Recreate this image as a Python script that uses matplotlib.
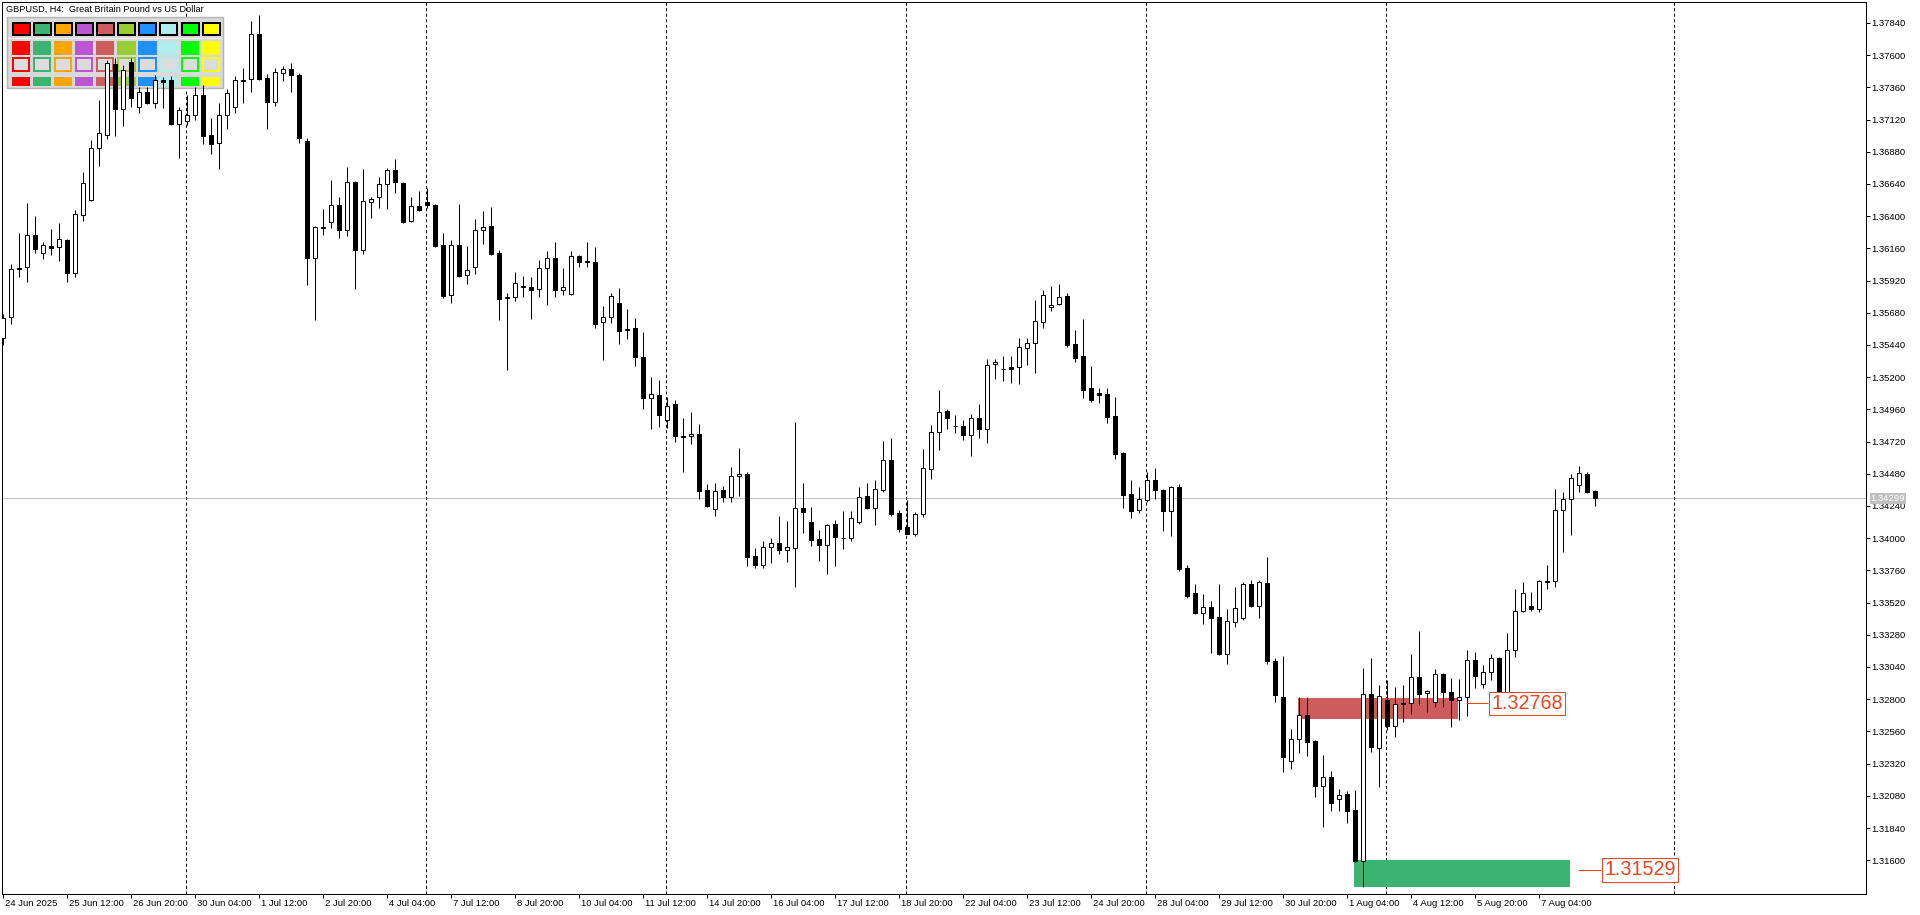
import matplotlib
matplotlib.use("Agg")
import matplotlib.pyplot as plt
import numpy as np
from matplotlib.patches import Rectangle
from matplotlib.transforms import ScaledTranslation, blended_transform_factory

plt.rcParams['font.family'] = ['Liberation Sans', 'DejaVu Sans']
plt.rcParams['lines.scale_dashes'] = False

# ---------------- data (GBPUSD H4) ----------------
opens = [1.35492,1.35649,1.36014,1.36021,1.36260,1.36126,1.36178,1.36170,1.36223,1.35977,
1.36409,1.36521,1.36908,1.37005,1.37534,1.37199,1.37549,1.37214,1.37326,1.37244,
1.37415,1.37415,1.37087,1.37110,1.37154,1.37303,1.37005,1.36946,1.37154,1.37214,
1.37415,1.37423,1.37758,1.37430,1.37251,1.37467,1.37497,1.37452,1.36960,1.36088,
1.36320,1.36357,1.36483,1.36297,1.36655,1.36148,1.36506,1.36543,1.36640,1.36744,
1.36647,1.36364,1.36476,1.36506,1.36483,1.36185,1.35813,1.36185,1.35962,1.36021,
1.36297,1.36327,1.36126,1.35790,1.35798,1.35880,1.35872,1.35857,1.36014,1.36088,
1.35850,1.35820,1.36103,1.36066,1.36059,1.35611,1.35649,1.35753,1.35552,1.35567,
1.35351,1.35045,1.35067,1.34881,1.35000,1.34762,1.34762,1.34777,1.34359,1.34218,
1.34359,1.34307,1.34464,1.34479,1.33867,1.33800,1.33934,1.33964,1.33912,1.33927,
1.34225,1.34121,1.33994,1.33949,1.34106,1.34002,1.34002,1.34121,1.34315,1.34225,
1.34359,1.34583,1.34188,1.34084,1.34031,1.34180,1.34516,1.34792,1.34948,1.34836,
1.34836,1.34769,1.34896,1.34814,1.35298,1.35261,1.35276,1.35276,1.35418,1.35455,
1.35611,1.35723,1.35746,1.35805,1.35447,1.35358,1.35119,1.35082,1.35075,1.34911,
1.34635,1.34329,1.34210,1.34285,1.34434,1.34359,1.34203,1.34382,1.33778,1.33592,
1.33443,1.33487,1.33413,1.33137,1.33375,1.33405,1.33659,1.33495,1.33666,1.33085,
1.32816,1.32340,1.32503,1.32682,1.32489,1.32153,1.32220,1.32056,1.32094,1.31974,
1.31594,1.32839,1.32436,1.32794,1.32600,1.32772,1.32772,1.32966,1.32846,1.32779,
1.32988,1.32854,1.32794,1.32816,1.33092,1.32913,1.33003,1.33107,1.32824,1.33167,
1.33457,1.33495,1.33472,1.33681,1.33681,1.34210,1.34292,1.34397,1.34479,1.34352]

highs = [1.35671,1.36044,1.36275,1.36498,1.36401,1.36208,1.36305,1.36349,1.36230,1.36446,
1.36729,1.36968,1.37266,1.37564,1.37579,1.37527,1.37579,1.37363,1.37363,1.37452,
1.37437,1.37445,1.37214,1.37303,1.37363,1.37378,1.37132,1.37244,1.37348,1.37445,
1.37505,1.37855,1.37900,1.37460,1.37505,1.37519,1.37542,1.37467,1.36983,1.36327,
1.36454,1.36670,1.36543,1.36767,1.36662,1.36752,1.36543,1.36692,1.36759,1.36826,
1.36655,1.36543,1.36588,1.36610,1.36491,1.36275,1.36223,1.36491,1.36178,1.36379,
1.36439,1.36469,1.36148,1.35828,1.35984,1.35954,1.35947,1.36074,1.36141,1.36208,
1.36014,1.36141,1.36111,1.36208,1.36170,1.35731,1.35828,1.35865,1.35708,1.35641,
1.35537,1.35201,1.35179,1.35052,1.35030,1.34896,1.34941,1.34851,1.34404,1.34411,
1.34389,1.34531,1.34672,1.34493,1.33927,1.33979,1.34002,1.34165,1.34128,1.34866,
1.34411,1.34233,1.34061,1.34106,1.34136,1.34203,1.34203,1.34382,1.34411,1.34434,
1.34724,1.34747,1.34210,1.34285,1.34195,1.34665,1.34844,1.35105,1.34963,1.34918,
1.34881,1.34926,1.35000,1.35336,1.35336,1.35358,1.35358,1.35492,1.35492,1.35776,
1.35850,1.35880,1.35895,1.35828,1.35552,1.35634,1.35283,1.35119,1.35119,1.35052,
1.34642,1.34434,1.34382,1.34493,1.34523,1.34367,1.34389,1.34404,1.33800,1.33659,
1.33584,1.33532,1.33659,1.33472,1.33636,1.33674,1.33688,1.33688,1.33860,1.33107,
1.33122,1.32578,1.32816,1.32816,1.32496,1.32384,1.32265,1.32131,1.32116,1.32123,
1.33033,1.33107,1.32906,1.32943,1.32891,1.32906,1.33137,1.33308,1.32869,1.33025,
1.32995,1.32958,1.32951,1.33167,1.33152,1.33055,1.33137,1.33115,1.33293,1.33621,
1.33674,1.33599,1.33688,1.33800,1.34367,1.34344,1.34479,1.34538,1.34493,1.34359]

lows = [1.35440,1.35596,1.35947,1.35910,1.36126,1.36081,1.36111,1.36066,1.35910,1.35947,
1.36364,1.36513,1.36774,1.36975,1.36998,1.37072,1.37214,1.37169,1.37236,1.37206,
1.37206,1.37080,1.36834,1.37080,1.37117,1.36938,1.36864,1.36752,1.37050,1.37169,
1.37244,1.37326,1.37415,1.37050,1.37221,1.37408,1.37326,1.36946,1.35887,1.35626,
1.36260,1.36312,1.36238,1.36252,1.35857,1.36118,1.36387,1.36461,1.36454,1.36573,
1.36349,1.36357,1.36439,1.36461,1.36170,1.35790,1.35753,1.35947,1.35895,1.35969,
1.36193,1.36111,1.35626,1.35254,1.35768,1.35798,1.35634,1.35798,1.35738,1.35798,
1.35813,1.35813,1.36021,1.36021,1.35567,1.35328,1.35604,1.35447,1.35485,1.35283,
1.34963,1.34814,1.34829,1.34821,1.34717,1.34493,1.34702,1.34292,1.34233,1.34165,
1.34270,1.34270,1.34315,1.33793,1.33778,1.33778,1.33815,1.33882,1.33823,1.33636,
1.34039,1.33942,1.33830,1.33733,1.33793,1.33920,1.33979,1.34106,1.34220,1.34098,
1.34344,1.34165,1.34046,1.34028,1.34016,1.34158,1.34441,1.34657,1.34814,1.34784,
1.34732,1.34613,1.34747,1.34710,1.35187,1.35172,1.35157,1.35149,1.35291,1.35231,
1.35567,1.35693,1.35738,1.35425,1.35313,1.35045,1.35015,1.35008,1.34859,1.34590,
1.34225,1.34151,1.34188,1.34270,1.34292,1.34054,1.34016,1.33756,1.33554,1.33435,
1.33361,1.33144,1.33130,1.33062,1.33338,1.33390,1.33487,1.33405,1.33062,1.32779,
1.32258,1.32280,1.32399,1.32377,1.32071,1.31848,1.31967,1.31967,1.31877,1.31587,
1.31400,1.32407,1.32146,1.32571,1.32518,1.32630,1.32690,1.32757,1.32705,1.32742,
1.32742,1.32593,1.32645,1.32675,1.32884,1.32884,1.32943,1.32816,1.32816,1.33115,
1.33450,1.33457,1.33450,1.33621,1.33636,1.33897,1.34024,1.34344,1.34337,1.34240]

closes = [1.35641,1.36006,1.36006,1.36260,1.36156,1.36185,1.36163,1.36230,1.35977,1.36416,
1.36647,1.36908,1.37020,1.37542,1.37199,1.37490,1.37281,1.37326,1.37244,1.37415,
1.37400,1.37087,1.37192,1.37154,1.37303,1.36998,1.36938,1.37154,1.37318,1.37415,
1.37408,1.37758,1.37423,1.37251,1.37475,1.37497,1.37452,1.36983,1.36088,1.36320,
1.36312,1.36483,1.36297,1.36655,1.36148,1.36513,1.36528,1.36640,1.36744,1.36655,
1.36357,1.36476,1.36446,1.36483,1.36178,1.35805,1.36185,1.35954,1.35999,1.36297,
1.36320,1.36118,1.35783,1.35798,1.35902,1.35872,1.35850,1.36014,1.36088,1.35850,
1.35872,1.36103,1.36059,1.36059,1.35596,1.35649,1.35805,1.35544,1.35559,1.35351,
1.35045,1.35075,1.34918,1.34985,1.34762,1.34754,1.34777,1.34352,1.34240,1.34352,
1.34307,1.34464,1.34479,1.33860,1.33800,1.33934,1.33964,1.33912,1.33934,1.34225,
1.34195,1.33987,1.33949,1.34098,1.34009,1.34000,1.34151,1.34307,1.34225,1.34367,
1.34583,1.34180,1.34069,1.34031,1.34180,1.34523,1.34792,1.34941,1.34896,1.34834,
1.34769,1.34896,1.34814,1.35291,1.35313,1.35263,1.35261,1.35425,1.35455,1.35619,
1.35813,1.35738,1.35798,1.35440,1.35343,1.35105,1.35030,1.35067,1.34903,1.34628,
1.34322,1.34203,1.34292,1.34434,1.34359,1.34203,1.34382,1.33770,1.33569,1.33443,
1.33487,1.33405,1.33137,1.33383,1.33480,1.33659,1.33495,1.33674,1.33085,1.32831,
1.32369,1.32503,1.32682,1.32481,1.32153,1.32220,1.32026,1.32086,1.31967,1.31594,
1.32839,1.32444,1.32824,1.32600,1.32764,1.32764,1.32966,1.32839,1.32861,1.32988,
1.32854,1.32794,1.32816,1.33092,1.32973,1.33003,1.33107,1.32824,1.33167,1.33457,
1.33592,1.33472,1.33681,1.33674,1.34210,1.34292,1.34449,1.34486,1.34344,1.34299]

time_tick_bars = [0, 8, 16, 24, 32, 40, 48, 56, 64, 72, 80, 88, 96, 104, 112, 120,
                  128, 136, 144, 152, 160, 168, 176, 184, 192]
time_labels = ["24 Jun 2025", "25 Jun 12:00", "26 Jun 20:00", "30 Jun 04:00", "1 Jul 12:00",
               "2 Jul 20:00", "4 Jul 04:00", "7 Jul 12:00", "8 Jul 20:00", "10 Jul 04:00",
               "11 Jul 12:00", "14 Jul 20:00", "16 Jul 04:00", "17 Jul 12:00", "18 Jul 20:00",
               "22 Jul 04:00", "23 Jul 12:00", "24 Jul 20:00", "28 Jul 04:00", "29 Jul 12:00",
               "30 Jul 20:00", "1 Aug 04:00", "4 Aug 12:00", "5 Aug 20:00", "7 Aug 04:00"]
price_ticks = [1.37840, 1.37600, 1.37360, 1.37120, 1.36880, 1.36640, 1.36400, 1.36160,
               1.35920, 1.35680, 1.35440, 1.35200, 1.34960, 1.34720, 1.34480, 1.34240,
               1.34000, 1.33760, 1.33520, 1.33280, 1.33040, 1.32800, 1.32560, 1.32320,
               1.32080, 1.31840, 1.31600]
separator_bars = [23, 53, 83, 113, 143, 173, 209]
last_price = 1.34299

# zones: (bar_start, bar_end, price_low, price_high, label_price)
red_zone = (161.9, 181.9, 1.32653, 1.32809, 1.32768)
green_zone = (168.9, 195.9, 1.31400, 1.31602, 1.31529)

panel_colors = ['#ff0000', '#3cb371', '#ffa500', '#ba55d3', '#cd5c5c',
                '#9acd32', '#1e90ff', '#afeeee', '#00ff00', '#ffff00']
title = "GBPUSD, H4:  Great Britain Pound vs US Dollar"

# ---------------- figure ----------------
W, H = 1920, 915
fig = plt.figure(figsize=(W / 100, H / 100), dpi=100, facecolor='white')
ax = fig.add_axes([2 / W, (H - 894) / H, (1866 - 2) / W, (894 - 2) / H])
ax.set_facecolor('white')

PX = 0.72  # one pixel in points
ax.set_xlim(-0.125, 232.875)
ax.set_ylim(1.313481, 1.379964)

o = np.array(opens); h = np.array(highs); l = np.array(lows); c = np.array(closes)
idx = np.arange(len(o))
up = c >= o

ax.vlines(idx, l, h, color='black', lw=1.0 * PX, zorder=3)
bottom = np.minimum(o, c)
height = np.maximum(np.abs(c - o), 0.00002)
bw = 0.56
ax.bar(idx[up], height[up], bw, bottom[up], facecolor='white', edgecolor='black',
       linewidth=1.0 * PX, zorder=4)
ax.bar(idx[~up], height[~up], bw, bottom[~up], facecolor='black', edgecolor='black',
       linewidth=1.0 * PX, zorder=4)

# current price line
ax.axhline(last_price, color='#c0c0c0', lw=1.0 * PX, zorder=1.2)

# period separators
for s in separator_bars:
    ax.axvline(s - 0.125, color='black', lw=1.0 * PX, ls=(0, (2.2, 1.8)), zorder=1.3)

# zones
lab_col = '#ee4420'
for (x0, x1, p0, p1, lp), col, line_x, box_x in [
        (red_zone, '#cd5c5c', (182.9, 185.6), 190.5),
        (green_zone, '#3cb371', (196.9, 199.75), 204.6)]:
    ax.add_patch(Rectangle((x0, p0), x1 - x0, p1 - p0, facecolor=col, edgecolor='none', zorder=2))
    ax.plot(line_x, [lp, lp], color=lab_col, lw=1.0 * PX, zorder=5, solid_capstyle='butt')
    ax.text(box_x, lp, f"{lp:.5f}", color=lab_col, fontsize=14.2, ha='center', va='center',
            zorder=6, bbox=dict(boxstyle='square,pad=0.12', facecolor='white', edgecolor=lab_col,
                                linewidth=1.0 * PX))

# axes styling
for sp in ax.spines.values():
    sp.set_color('black'); sp.set_linewidth(1.0 * PX)
ax.yaxis.tick_right()
ax.set_yticks(price_ticks)
ax.set_yticklabels([f"{p:.5f}" for p in price_ticks])
ax.tick_params(axis='y', right=True, left=False, direction='out', length=2.6, width=PX,
               pad=1.2, labelsize=6.8, colors='black')
ax.set_xticks(time_tick_bars)
ax.set_xticklabels(time_labels)
ax.tick_params(axis='x', bottom=True, top=False, direction='out', length=3.2, width=PX,
               pad=0.2, labelsize=6.8, colors='black')
off = ScaledTranslation(2 / 100, 0, fig.dpi_scale_trans)
for lab in ax.get_xticklabels():
    lab.set_horizontalalignment('left')
    lab.set_transform(lab.get_transform() + off)

# last price tag on the price scale
tr = blended_transform_factory(fig.transFigure, ax.transData)
ax.text(1870.5 / W, last_price, f"{last_price:.5f}", transform=tr, color='white', fontsize=6.8,
        ha='left', va='center', zorder=10, clip_on=False,
        bbox=dict(boxstyle='square,pad=0.1', facecolor='#c0c0c0', edgecolor='none'))

# ---------------- colour panel (screen pixels) ----------------
def fr(x0, y0, x1, y1, **kw):
    r = Rectangle((x0 / W, 1 - y1 / H), (x1 - x0) / W, (y1 - y0) / H,
                  transform=fig.transFigure, **kw)
    ax.add_artist(r)

fr(7, 17, 223, 88, facecolor='#d9d9d9', edgecolor='#b4b4b4', lw=1.4 * PX, zorder=1.5)
fr(8, 37.5, 222, 39, facecolor='#f4f4f4', edgecolor='none', zorder=1.6)
for k, col in enumerate(panel_colors):
    x0 = 11.7 + 21.1 * k
    fr(x0 + 1, 23, x0 + 18, 35, facecolor=col, edgecolor='black', lw=2.0 * PX, zorder=1.7)
    fr(x0, 40.5, x0 + 18.3, 55, facecolor=col, edgecolor='none', zorder=1.7)
    fr(x0 + 1, 58.5, x0 + 17.3, 71, facecolor='#dcdcdc', edgecolor=col, lw=2.0 * PX, zorder=1.7)
    fr(x0, 77, x0 + 18.3, 85.5, facecolor=col, edgecolor='none', zorder=1.7)

fig.text(6 / W, 1 - 9 / H, title, fontsize=6.6, color='black', ha='left', va='center', zorder=10)

fig.savefig("out.png", dpi=100, facecolor='white')
